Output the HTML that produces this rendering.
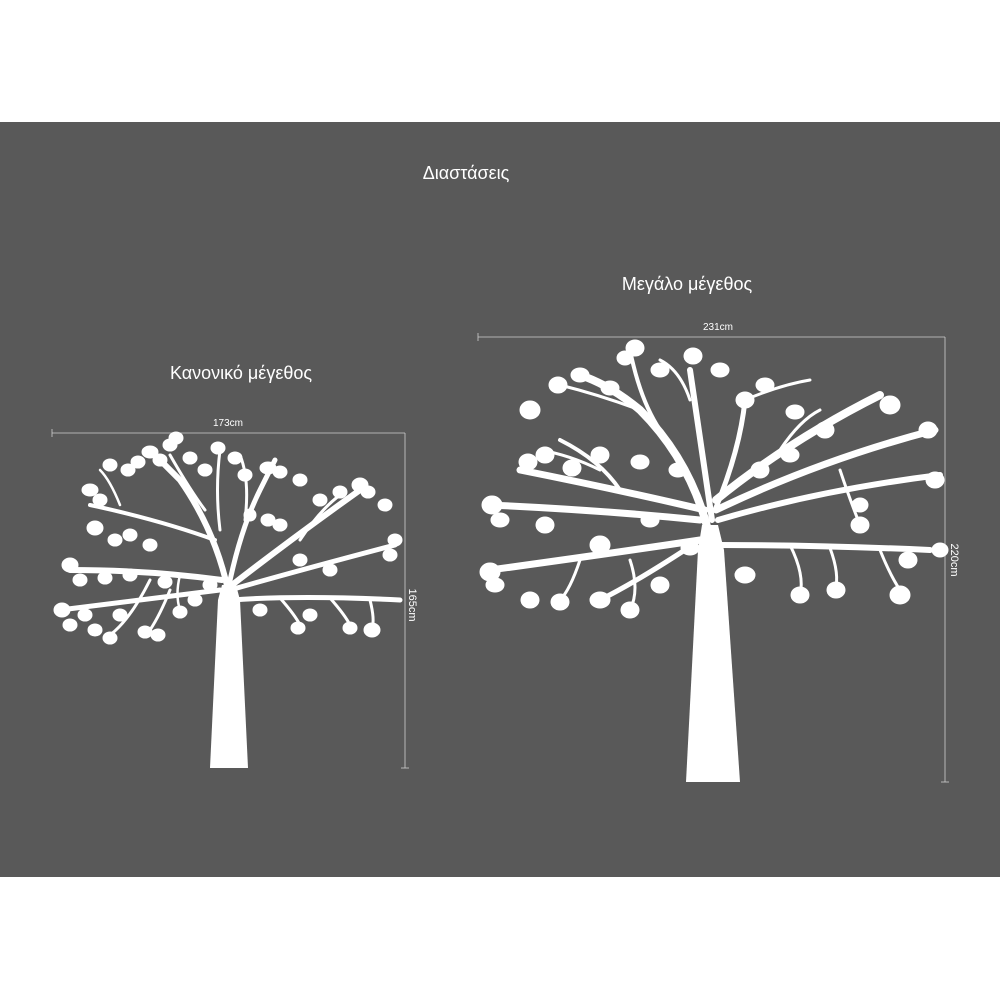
<!DOCTYPE html>
<html><head><meta charset="utf-8"><style>
html,body{margin:0;padding:0;background:#fff;width:1000px;height:1000px;overflow:hidden}
svg{display:block}
text{font-family:"Liberation Sans",sans-serif;fill:#fff}
</style></head><body>
<svg width="1000" height="1000" viewBox="0 0 1000 1000">
<rect x="0" y="0" width="1000" height="1000" fill="#fff"/>
<rect x="0" y="122" width="1000" height="755" fill="#595959"/>
<text x="466" y="179" font-size="18" text-anchor="middle">Διαστάσεις</text>
<text x="687" y="290" font-size="18" text-anchor="middle">Μεγάλο μέγεθος</text>
<text x="241" y="379" font-size="18" text-anchor="middle">Κανονικό μέγεθος</text>
<g stroke="#cfcfcf" stroke-width="0.8" fill="none">
<line x1="52" y1="433" x2="405" y2="433"/><line x1="52" y1="429" x2="52" y2="437"/>
<line x1="405" y1="433" x2="405" y2="768"/><line x1="401" y1="768" x2="409" y2="768"/>
<line x1="478" y1="337" x2="945" y2="337"/><line x1="478" y1="333" x2="478" y2="341"/>
<line x1="945" y1="337" x2="945" y2="782"/><line x1="941" y1="782" x2="949" y2="782"/>
</g>
<text x="228" y="426" font-size="10" text-anchor="middle">173cm</text>
<text x="718" y="330" font-size="10" text-anchor="middle">231cm</text>
<text transform="translate(409,605) rotate(90)" font-size="11" text-anchor="middle">165cm</text>
<text transform="translate(951,560) rotate(90)" font-size="11" text-anchor="middle">220cm</text>

<!-- small tree -->
<g fill="#fff" stroke="#fff" stroke-linecap="round" stroke-linejoin="round">
<polygon points="210,768 248,768 240,600 236,585 222,585 218,600" stroke="none"/>
<g fill="none">
<path d="M228,590 Q215,530 180,480 Q165,465 150,450" stroke-width="6"/>
<path d="M228,590 Q240,530 260,490 Q270,470 275,460" stroke-width="5"/>
<path d="M232,585 Q290,540 360,490" stroke-width="6"/>
<path d="M230,590 Q300,570 395,545" stroke-width="5"/>
<path d="M232,600 Q300,595 400,600" stroke-width="5"/>
<path d="M222,580 Q150,570 70,570" stroke-width="6"/>
<path d="M220,590 Q140,600 60,610" stroke-width="5"/>
<path d="M215,540 Q160,520 90,505" stroke-width="4"/>
<path d="M205,510 Q190,490 170,455" stroke-width="3"/>
<path d="M220,530 Q215,490 220,450" stroke-width="3"/>
<path d="M245,520 Q250,480 240,455" stroke-width="3"/>
<path d="M300,540 Q320,510 340,495" stroke-width="3"/>
<path d="M150,580 Q130,620 110,635" stroke-width="3"/>
<path d="M170,590 Q160,615 150,630" stroke-width="3"/>
<path d="M280,598 Q295,615 300,625" stroke-width="3"/>
<path d="M330,598 Q345,615 350,625" stroke-width="3"/>
<path d="M370,600 Q375,620 372,628" stroke-width="3"/>
<path d="M120,505 Q110,480 100,470" stroke-width="2.5"/>
<path d="M180,575 Q175,595 180,610" stroke-width="2.5"/>
</g>
<g stroke-width="3">
<ellipse cx="150" cy="452" rx="7" ry="5"/><ellipse cx="138" cy="462" rx="6" ry="5"/><ellipse cx="128" cy="470" rx="6" ry="5"/>
<ellipse cx="170" cy="445" rx="6" ry="5"/><ellipse cx="160" cy="460" rx="6" ry="5"/><ellipse cx="176" cy="438" rx="6" ry="5"/>
<ellipse cx="190" cy="458" rx="6" ry="5"/><ellipse cx="205" cy="470" rx="6" ry="5"/><ellipse cx="218" cy="448" rx="6" ry="5"/>
<ellipse cx="235" cy="458" rx="6" ry="5"/><ellipse cx="245" cy="475" rx="6" ry="5"/><ellipse cx="268" cy="468" rx="7" ry="5"/>
<ellipse cx="280" cy="472" rx="6" ry="5"/><ellipse cx="300" cy="480" rx="6" ry="5"/><ellipse cx="320" cy="500" rx="6" ry="5"/>
<ellipse cx="340" cy="492" rx="6" ry="5"/><ellipse cx="360" cy="485" rx="7" ry="6"/><ellipse cx="368" cy="492" rx="6" ry="5"/>
<ellipse cx="385" cy="505" rx="6" ry="5"/><ellipse cx="395" cy="540" rx="6" ry="5"/><ellipse cx="390" cy="555" rx="6" ry="5"/>
<ellipse cx="268" cy="520" rx="6" ry="5"/><ellipse cx="280" cy="525" rx="6" ry="5"/><ellipse cx="250" cy="515" rx="5" ry="5"/>
<ellipse cx="90" cy="490" rx="7" ry="5"/><ellipse cx="100" cy="500" rx="6" ry="5"/><ellipse cx="110" cy="465" rx="6" ry="5"/>
<ellipse cx="95" cy="528" rx="7" ry="6"/><ellipse cx="115" cy="540" rx="6" ry="5"/><ellipse cx="130" cy="535" rx="6" ry="5"/>
<ellipse cx="150" cy="545" rx="6" ry="5"/><ellipse cx="70" cy="565" rx="7" ry="6"/><ellipse cx="80" cy="580" rx="6" ry="5"/>
<ellipse cx="105" cy="578" rx="6" ry="5"/><ellipse cx="130" cy="575" rx="6" ry="5"/><ellipse cx="165" cy="582" rx="6" ry="5"/>
<ellipse cx="62" cy="610" rx="7" ry="6"/><ellipse cx="70" cy="625" rx="6" ry="5"/><ellipse cx="85" cy="615" rx="6" ry="5"/>
<ellipse cx="95" cy="630" rx="6" ry="5"/><ellipse cx="110" cy="638" rx="6" ry="5"/><ellipse cx="120" cy="615" rx="6" ry="5"/>
<ellipse cx="145" cy="632" rx="6" ry="5"/><ellipse cx="158" cy="635" rx="6" ry="5"/><ellipse cx="180" cy="612" rx="6" ry="5"/>
<ellipse cx="195" cy="600" rx="6" ry="5"/><ellipse cx="210" cy="585" rx="6" ry="5"/><ellipse cx="260" cy="610" rx="6" ry="5"/>
<ellipse cx="298" cy="628" rx="6" ry="5"/><ellipse cx="310" cy="615" rx="6" ry="5"/><ellipse cx="350" cy="628" rx="6" ry="5"/>
<ellipse cx="372" cy="630" rx="7" ry="6"/><ellipse cx="330" cy="570" rx="6" ry="5"/><ellipse cx="300" cy="560" rx="6" ry="5"/>
</g>
</g>

<!-- large tree -->
<g fill="#fff" stroke="#fff" stroke-linecap="round" stroke-linejoin="round">
<polygon points="686,782 740,782 724,550 718,525 702,525 698,550" stroke="none"/>
<g fill="none">
<path d="M708,530 Q690,460 640,410 Q610,385 580,375" stroke-width="8"/>
<path d="M712,520 Q700,440 690,370" stroke-width="6"/>
<path d="M715,510 Q740,450 745,400" stroke-width="5"/>
<path d="M716,500 Q790,440 880,395" stroke-width="8"/>
<path d="M716,510 Q820,460 935,430" stroke-width="7"/>
<path d="M718,520 Q820,490 940,475" stroke-width="6"/>
<path d="M720,545 Q820,545 930,550" stroke-width="6"/>
<path d="M705,510 Q620,490 520,470" stroke-width="7"/>
<path d="M700,520 Q600,510 490,505" stroke-width="7"/>
<path d="M700,540 Q600,555 490,570" stroke-width="7"/>
<path d="M700,540 Q640,580 600,600" stroke-width="5"/>
<path d="M640,410 Q600,395 560,385" stroke-width="3"/>
<path d="M660,430 Q640,400 630,350" stroke-width="4"/>
<path d="M690,400 Q680,370 660,360" stroke-width="3"/>
<path d="M745,400 Q780,385 810,380" stroke-width="3"/>
<path d="M780,450 Q800,420 820,410" stroke-width="3"/>
<path d="M620,490 Q600,460 560,440" stroke-width="4"/>
<path d="M600,470 Q570,455 540,450" stroke-width="3"/>
<path d="M580,560 Q570,590 560,600" stroke-width="3"/>
<path d="M630,560 Q640,590 630,610" stroke-width="3"/>
<path d="M790,545 Q805,575 800,595" stroke-width="3"/>
<path d="M830,548 Q840,575 835,590" stroke-width="3"/>
<path d="M880,550 Q890,575 900,590" stroke-width="3"/>
<path d="M840,470 Q850,500 860,525" stroke-width="3"/>
</g>
<g stroke-width="3">
<ellipse cx="635" cy="348" rx="8" ry="7"/><ellipse cx="625" cy="358" rx="7" ry="6"/><ellipse cx="693" cy="356" rx="8" ry="7"/>
<ellipse cx="660" cy="370" rx="8" ry="6"/><ellipse cx="720" cy="370" rx="8" ry="6"/><ellipse cx="558" cy="385" rx="8" ry="7"/>
<ellipse cx="580" cy="375" rx="8" ry="6"/><ellipse cx="610" cy="388" rx="8" ry="6"/><ellipse cx="745" cy="400" rx="8" ry="7"/>
<ellipse cx="765" cy="385" rx="8" ry="6"/><ellipse cx="795" cy="412" rx="8" ry="6"/><ellipse cx="825" cy="430" rx="8" ry="7"/>
<ellipse cx="890" cy="405" rx="9" ry="8"/><ellipse cx="928" cy="430" rx="8" ry="7"/><ellipse cx="935" cy="480" rx="8" ry="7"/>
<ellipse cx="530" cy="410" rx="9" ry="8"/><ellipse cx="545" cy="455" rx="8" ry="7"/><ellipse cx="528" cy="462" rx="8" ry="7"/>
<ellipse cx="572" cy="468" rx="8" ry="7"/><ellipse cx="600" cy="455" rx="8" ry="7"/><ellipse cx="640" cy="462" rx="8" ry="6"/>
<ellipse cx="678" cy="470" rx="8" ry="6"/><ellipse cx="760" cy="470" rx="8" ry="7"/><ellipse cx="790" cy="455" rx="8" ry="6"/>
<ellipse cx="492" cy="505" rx="9" ry="8"/><ellipse cx="500" cy="520" rx="8" ry="6"/><ellipse cx="545" cy="525" rx="8" ry="7"/>
<ellipse cx="600" cy="545" rx="9" ry="8"/><ellipse cx="650" cy="520" rx="8" ry="6"/><ellipse cx="690" cy="548" rx="8" ry="6"/>
<ellipse cx="490" cy="572" rx="9" ry="8"/><ellipse cx="495" cy="585" rx="8" ry="6"/><ellipse cx="530" cy="600" rx="8" ry="7"/>
<ellipse cx="560" cy="602" rx="8" ry="7"/><ellipse cx="600" cy="600" rx="9" ry="7"/><ellipse cx="630" cy="610" rx="8" ry="7"/>
<ellipse cx="660" cy="585" rx="8" ry="7"/><ellipse cx="745" cy="575" rx="9" ry="7"/><ellipse cx="800" cy="595" rx="8" ry="7"/>
<ellipse cx="836" cy="590" rx="8" ry="7"/><ellipse cx="900" cy="595" rx="9" ry="8"/><ellipse cx="860" cy="525" rx="8" ry="7"/>
<ellipse cx="908" cy="560" rx="8" ry="7"/><ellipse cx="940" cy="550" rx="7" ry="6"/><ellipse cx="860" cy="505" rx="7" ry="6"/>
</g>
</g>
</svg>
</body></html>
